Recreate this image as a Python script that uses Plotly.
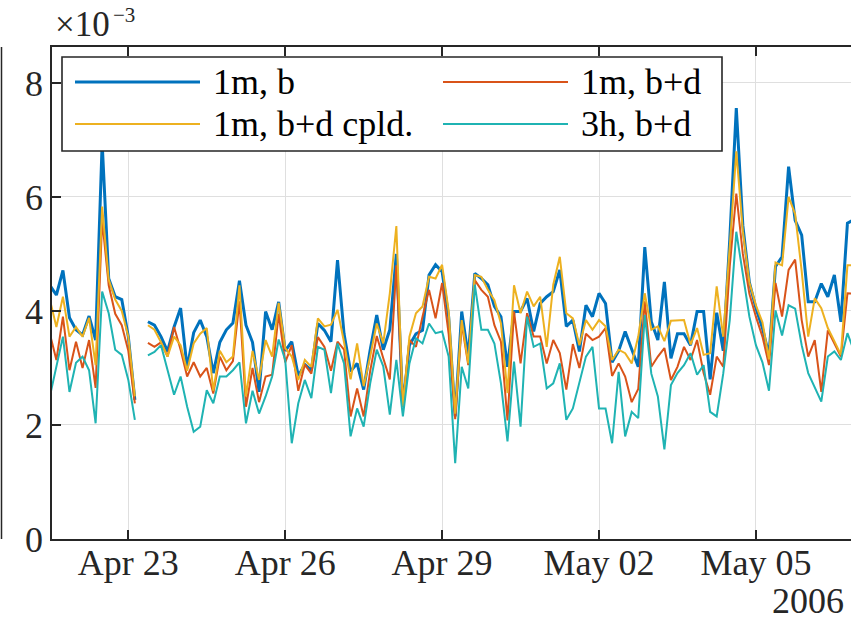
import pandas as pd
import plotly.graph_objects as go

# 3-hourly samples starting 2006-04-21 12:00 (None = missing sample)
times = pd.date_range("2006-04-21 12:00", periods=124, freq="3h")

series_names = ["1m, b", "1m, b+d", "1m, b+d cpld.", "3h, b+d"]

# values in units of 1e-3
v_1m_b = [
    4.45, 4.28, 4.71, 3.88, 3.67, 3.58, 3.91, 3.49, 6.95, 4.57, 4.25, 4.20, 3.55, 2.44,
    None,
    3.81, 3.75, 3.55, 3.29, 3.72, 4.05, 3.00, 3.62, 3.84, 3.55, 2.91, 3.45, 3.67, 3.79, 4.53, 3.75, 3.45,
    2.58, 3.99, 3.67, 4.16, 3.30, 3.46, 2.86, 3.06, 2.96, 3.78, 3.66, 3.46, 4.89, 3.60, 2.94, 3.08, 2.62,
    3.32, 3.93, 3.32, 3.67, 5.00, 2.32, 3.40, 3.60, 3.66, 4.63, 4.81, 4.69,
    3.90, 2.15, 3.99, 3.20, 4.66, 4.57, 4.46, 4.08, 3.90, 3.02, 3.99, 3.99, 4.22, 3.64, 4.13, 4.25,
    4.34, 4.72, 3.73, 3.84, 3.29, 4.10, 3.90, 4.31, 4.13, 3.10, 3.30, 3.64, 3.33, 3.02, 5.12,
    3.81, 3.49, 4.51, 3.17, 3.60, 3.60, 3.40, 3.99, 3.99, 2.80, 3.97, 3.30, 5.25, 7.56, 5.50, 4.50,
    4.05, 3.70, 3.22, 4.78, 4.95, 6.53, 5.59, 5.33, 4.16, 4.16, 4.48, 4.25, 4.63, 3.81, 5.54, 5.60,
]
v_1m_bd = [
    3.60, 3.14, 3.90, 2.96, 3.46, 3.00, 3.49, 2.65, 5.60, 4.45, 3.95, 3.75, 3.30, 2.38,
    None,
    3.44, 3.37, 3.45, 3.20, 3.72, 3.32, 2.85, 3.10, 2.85, 3.00, 2.55, 3.20, 2.96, 3.12, 4.17, 2.32, 3.00,
    2.40, 2.85, 2.88, 3.95, 3.10, 3.40, 2.60, 3.06, 2.90, 3.54, 3.37, 2.95, 3.46, 3.32, 2.15, 2.64, 2.15,
    2.95, 3.56, 3.17, 2.80, 4.80, 2.35, 3.49, 3.37, 3.90, 4.37, 3.87, 4.49,
    3.60, 2.10, 3.78, 3.05, 4.54, 4.37, 4.25, 3.75, 3.46, 2.08, 3.99, 3.08, 3.96, 3.55, 3.55, 3.08,
    3.49, 3.26, 2.62, 3.42, 3.00, 3.60, 3.49, 3.55, 3.70, 2.86, 3.08, 2.85, 2.40, 2.63, 4.17,
    3.02, 3.20, 3.35, 2.79, 3.02, 3.37, 3.14, 3.49, 2.91, 2.53, 3.20, 3.02, 4.78, 6.06, 5.00, 4.30,
    3.90, 3.55, 3.05, 4.49, 3.90, 4.72, 4.90, 3.84, 3.20, 3.49, 2.58, 3.66, 3.43, 3.20, 4.31, 4.30,
]
v_1m_bd_cpld = [
    4.20, 3.72, 4.25, 3.55, 3.72, 3.55, 3.88, 3.05, 5.83, 4.55, 4.20, 4.00, 3.55, 2.50,
    None,
    3.75, 3.67, 3.45, 3.20, 3.55, 3.40, 2.95, 3.43, 3.60, 3.70, 2.60, 3.30, 3.10, 3.20, 4.45, 2.50, 3.30,
    2.79, 3.49, 3.20, 4.14, 3.35, 3.20, 2.79, 3.14, 3.02, 3.87, 3.73, 3.76, 4.02, 3.45, 2.80, 3.43, 2.68,
    3.20, 3.78, 3.43, 4.31, 5.49, 2.32, 3.55, 3.96, 4.08, 4.60, 4.57, 4.81,
    4.00, 2.20, 3.84, 3.08, 4.63, 4.60, 4.37, 4.19, 3.78, 2.56, 4.45, 3.96, 4.34, 4.08, 4.25, 3.37,
    4.46, 4.95, 3.96, 3.87, 3.40, 3.84, 3.67, 3.84, 3.73, 3.14, 3.32, 3.26, 3.08, 3.55, 4.31,
    3.67, 3.73, 3.47, 3.83, 3.84, 3.84, 3.41, 3.70, 3.23, 3.26, 4.43, 3.55, 5.13, 6.80, 5.40, 4.50,
    4.10, 3.80, 3.15, 4.85, 4.80, 6.00, 5.70, 4.70, 3.55, 4.22, 4.05, 3.70, 3.47, 3.23, 4.80, 4.80,
]
v_3h_bd = [
    2.50, 3.05, 3.55, 2.58, 3.09, 3.20, 2.96, 2.03, 4.34, 3.96, 3.32, 3.23, 2.79, 2.09,
    None,
    3.22, 3.28, 3.40, 2.96, 2.53, 2.85, 2.32, 1.88, 1.97, 2.61, 2.38, 2.85, 2.85, 2.96, 3.10, 2.03, 2.60,
    2.20, 2.50, 2.85, 3.50, 3.14, 1.68, 2.38, 2.79, 2.47, 3.37, 3.32, 2.56, 3.43, 3.08, 1.80, 2.29, 1.97,
    2.73, 3.32, 3.03, 2.18, 3.14, 2.15, 3.08, 3.52, 3.43, 3.78, 3.61, 3.64,
    3.20, 1.33, 3.02, 2.64, 4.46, 3.67, 3.67, 3.43, 2.73, 1.71, 3.11, 1.97, 3.90, 3.37, 3.43, 2.64,
    2.73, 3.08, 2.09, 2.29, 2.73, 3.20, 3.37, 2.29, 2.29, 1.68, 2.93, 1.80, 2.23, 2.12, 3.93,
    2.90, 2.50, 1.57, 2.70, 2.91, 3.05, 3.26, 2.88, 3.05, 2.23, 2.15, 2.90, 3.84, 5.39, 4.60, 3.90,
    3.40, 3.10, 2.60, 4.01, 3.57, 4.10, 4.04, 3.40, 2.91, 2.67, 2.41, 3.20, 3.29, 3.14, 3.61, 3.30,
]

series_values = [v_1m_b, v_1m_bd, v_1m_bd_cpld, v_3h_bd]
colors = ["#0072BD", "#D95319", "#EDB120", "#1FB3B3"]
widths = [3.0, 2.0, 2.0, 2.0]

FONT = "'Liberation Serif', 'Times New Roman', 'DejaVu Serif', serif"
FS = 36
INK = "#262626"
W, H = 851, 620
L, R, T, B = 52, 0, 47, 81
PW, PH = W - L - R, H - T - B


def px(x):
    return (x - L) / PW


def py(y):
    return (H - B - y) / PH


fig = go.Figure()
for name, vals, c, w in zip(series_names, series_values, colors, widths):
    fig.add_trace(go.Scatter(
        x=times, y=vals, name=name, mode="lines",
        line=dict(color=c, width=w), connectgaps=False, showlegend=False,
    ))

axis_common = dict(
    showline=True, linecolor=INK, linewidth=1.5,
    ticks="inside", ticklen=9, tickwidth=1.5, tickcolor=INK,
    showgrid=True, gridcolor="#DFDFDF", gridwidth=1.2,
    zeroline=False,
    tickfont=dict(family=FONT, size=FS, color=INK),
)

fig.update_layout(
    width=W, height=H, autosize=False,
    margin=dict(l=L, r=R, t=T, b=B, pad=0),
    paper_bgcolor="white", plot_bgcolor="white",
    xaxis=dict(
        type="date",
        range=["2006-04-21 12:59", "2006-05-06 19:38"],
        tick0="2006-04-23", dtick=3 * 86400000, tickformat="%b %d",
        mirror="ticks", ticklabelstandoff=-9, **axis_common,
    ),
    yaxis=dict(range=[0, 8.63], tick0=0, dtick=2, mirror=False, **axis_common),
    showlegend=False,
)

shapes = []
annotations = []

# legend box with line samples
shapes.append(dict(type="rect", xref="paper", yref="paper",
                   x0=px(62), x1=px(722), y0=py(57), y1=py(151),
                   line=dict(color=INK, width=1.6), fillcolor="white", layer="above"))
entry_pos = [(75, 82), (443, 82), (75, 124), (443, 124)]
for (lx, ly), name, c, w in zip(entry_pos, series_names, colors, widths):
    shapes.append(dict(type="line", xref="paper", yref="paper",
                       x0=px(lx), x1=px(lx + 125), y0=py(ly), y1=py(ly),
                       line=dict(color=c, width=w), layer="above"))
    annotations.append(dict(xref="paper", yref="paper", x=px(lx + 136), y=py(ly),
                            xanchor="left", yanchor="middle", showarrow=False,
                            text=name, font=dict(family=FONT, size=FS, color="black")))

# axis exponent (base and superscript set separately)
annotations.append(dict(xref="paper", yref="paper", x=px(53), y=py(46),
                        xanchor="left", yanchor="bottom", showarrow=False,
                        text="×10", font=dict(family=FONT, size=35, color=INK)))
annotations.append(dict(xref="paper", yref="paper", x=px(111), y=py(29),
                        xanchor="left", yanchor="bottom", showarrow=False,
                        text="−3", font=dict(family=FONT, size=21, color=INK)))
# year label under the last tick
annotations.append(dict(xref="paper", yref="paper", x=px(846), y=py(579),
                        xanchor="right", yanchor="top", showarrow=False,
                        text="2006", font=dict(family=FONT, size=FS, color=INK)))

# frame edge of the neighbouring axes on the left
shapes.append(dict(type="line", xref="paper", yref="paper",
                   x0=px(1.5), x1=px(1.5), y0=py(47), y1=py(539),
                   line=dict(color=INK, width=1.5), layer="above"))

fig.update_layout(shapes=shapes, annotations=annotations)
fig.write_html("out.html")
